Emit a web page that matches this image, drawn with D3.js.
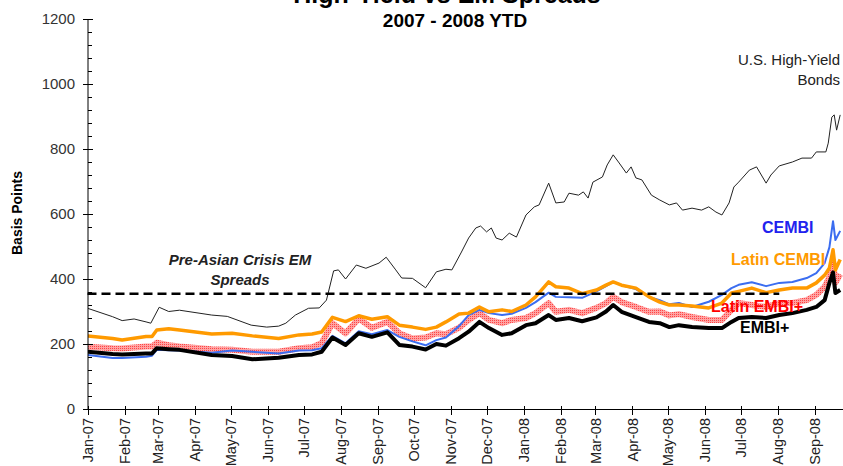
<!DOCTYPE html>
<html>
<head>
<meta charset="utf-8">
<script src="https://cdn.jsdelivr.net/npm/d3@7"></script>
<style>
body { margin: 0; background: #fff; }
svg { display: block; font-family: "Liberation Sans", Arial, sans-serif; }
</style>
</head>
<body>
<svg id="chart" width="843" height="466"></svg>
<script>
var hyDates = ["2007-01-01","2007-01-22","2007-01-30","2007-02-09","2007-02-19","2007-02-23","2007-03-02","2007-03-10","2007-03-19","2007-04-15",
  "2007-04-28","2007-05-18","2007-05-31","2007-06-10","2007-06-16","2007-06-24","2007-07-05","2007-07-14","2007-07-20","2007-07-26",
  "2007-07-30","2007-08-05","2007-08-14","2007-08-22","2007-09-02","2007-09-08","2007-09-16","2007-09-21","2007-09-30","2007-10-11",
  "2007-10-20","2007-10-28","2007-11-02","2007-11-10","2007-11-16","2007-11-22","2007-11-26","2007-12-01","2007-12-05","2007-12-09",
  "2007-12-14","2007-12-20","2007-12-26","2008-01-03","2008-01-10","2008-01-14","2008-01-22","2008-01-28","2008-02-04","2008-02-08",
  "2008-02-16","2008-02-20","2008-02-24","2008-02-28","2008-03-07","2008-03-11","2008-03-16","2008-03-21","2008-03-27","2008-03-31",
  "2008-04-04","2008-04-09","2008-04-17","2008-04-24","2008-05-02","2008-05-08","2008-05-13","2008-05-21","2008-05-29","2008-06-04",
  "2008-06-10","2008-06-15","2008-06-21","2008-06-25","2008-06-29","2008-07-08","2008-07-14","2008-07-18","2008-07-22","2008-07-26",
  "2008-08-02","2008-08-13","2008-08-21","2008-08-29","2008-09-02","2008-09-10","2008-09-12","2008-09-15","2008-09-17","2008-09-19",
  "2008-09-22"];
var hyValues = [310,284,272,277,268,264,313,300,304,289,
  285,258,252,255,264,289,310,311,335,425,
  428,400,443,433,449,467,428,403,402,373,
  422,430,428,483,526,557,563,545,557,526,
  520,541,529,597,622,628,695,634,637,664,
  658,668,649,698,714,751,782,757,726,745,
  711,705,658,643,628,634,612,618,612,622,
  606,597,634,683,698,735,745,720,695,720,
  748,760,772,772,791,791,818,898,905,858,
  905];

var emDates = ["2007-01-01","2007-01-22","2007-01-30","2007-02-19","2007-02-24","2007-02-28","2007-03-10","2007-03-19","2007-04-15","2007-05-02",
  "2007-05-19","2007-06-10","2007-06-27","2007-07-08","2007-07-16","2007-07-25","2007-08-05","2007-08-16","2007-08-27","2007-09-09",
  "2007-09-19","2007-09-30","2007-10-11","2007-10-20","2007-10-28","2007-11-08","2007-11-16","2007-11-25","2007-12-03","2007-12-14",
  "2007-12-22","2008-01-03","2008-01-11","2008-01-22","2008-01-28","2008-02-08","2008-02-19","2008-03-02","2008-03-10","2008-03-16",
  "2008-03-23","2008-04-04","2008-04-15","2008-04-24","2008-05-02","2008-05-10","2008-05-21","2008-06-04","2008-06-15","2008-06-23",
  "2008-06-29","2008-07-10","2008-07-22","2008-08-02","2008-08-13","2008-08-25","2008-09-02","2008-09-09","2008-09-13","2008-09-16",
  "2008-09-18","2008-09-22"];
var latinCembi = [225,217,212,223,223,243,247,243,231,233,
  225,217,228,231,237,282,269,287,276,284,
  258,252,245,252,268,292,295,314,299,305,
  300,320,345,391,376,372,355,366,381,391,
  381,372,345,329,320,320,317,311,326,357,
  362,372,358,366,372,372,388,412,434,490,
  428,460];
var cembi = [166,157,157,161,164,182,181,180,173,180,
  176,171,180,181,187,225,202,239,230,243,
  222,208,196,212,220,255,289,305,295,289,
  293,311,329,358,345,344,342,362,378,391,
  381,369,345,335,322,326,314,330,351,372,
  382,390,378,388,391,403,418,449,498,578,
  520,548];
var latinEmbi = [192,187,186,192,192,204,196,192,184,182,
  176,176,187,190,203,264,233,278,250,268,
  233,217,220,233,230,250,274,295,274,264,
  274,280,295,326,299,305,295,311,326,345,
  329,314,299,300,288,292,283,274,274,305,
  326,320,314,326,326,335,351,376,406,455,
  388,415];
var embiPlus = [176,169,168,171,171,187,184,182,166,163,
  153,158,166,168,176,220,197,233,222,236,
  197,192,183,200,195,218,238,268,249,228,
  233,258,264,289,274,280,270,282,300,320,
  299,283,268,264,252,258,252,249,249,268,
  280,283,280,289,295,305,314,335,388,420,
  357,366];

var preAsianLevel = 355;
var preAsianEnd = "2008-08-02";

var parseDate = d3.timeParse("%Y-%m-%d");
var svg = d3.select("#chart");

var x = d3.scaleTime()
  .domain([parseDate("2007-01-01"), parseDate("2008-09-01")])
  .range([87.5, 815.1]);
var y = d3.scaleLinear()
  .domain([0, 1200])
  .range([409, 19]);

// pink dotted fill used by Latin EMBI+
var defs = svg.append("defs");
var pat = defs.append("pattern")
  .attr("id", "hatch")
  .attr("patternUnits", "userSpaceOnUse")
  .attr("width", 2).attr("height", 2);
pat.append("rect").attr("width", 2).attr("height", 2).attr("fill", "#ffa3a3");
pat.append("rect").attr("width", 1).attr("height", 1).attr("fill", "#ff4444");

defs.append("clipPath").attr("id", "plotclip")
  .append("rect").attr("x", 88).attr("y", 0).attr("width", 760).attr("height", 409);

function series(dates, values) {
  return dates.map(function(d, i) { return {date: parseDate(d), value: values[i]}; });
}

var line = d3.line()
  .x(function(d) { return x(d.date); })
  .y(function(d) { return y(d.value); });

var plot = svg.append("g").attr("clip-path", "url(#plotclip)");

var lines = [
  {data: series(emDates, latinEmbi), stroke: "url(#hatch)", width: 6},
  {data: series(emDates, cembi), stroke: "#3b6df0", width: 2},
  {data: series(emDates, latinCembi), stroke: "#ff9a00", width: 3.5},
  {data: series(emDates, embiPlus), stroke: "#000", width: 4},
  {data: series(hyDates, hyValues), stroke: "#222", width: 1}
];

plot.selectAll("path.series")
  .data(lines)
  .enter().append("path")
  .attr("class", "series")
  .attr("fill", "none")
  .attr("stroke", function(d) { return d.stroke; })
  .attr("stroke-width", function(d) { return d.width; })
  .attr("stroke-linejoin", "round")
  .attr("d", function(d) { return line(d.data); });

svg.append("line")
  .attr("x1", x(parseDate("2007-01-01")))
  .attr("x2", x(parseDate(preAsianEnd)))
  .attr("y1", y(preAsianLevel))
  .attr("y2", y(preAsianLevel))
  .attr("stroke", "#000")
  .attr("stroke-width", 2.5)
  .attr("stroke-dasharray", "9,5");

// axes
var yMajor = d3.range(0, 1201, 200);
var yMinor = d3.range(0, 1201, 40);

var yAxis = svg.append("g");
yAxis.append("line")
  .attr("x1", 88).attr("x2", 88)
  .attr("y1", y(1200)).attr("y2", y(0))
  .attr("stroke", "#000");
yAxis.selectAll("line.minor")
  .data(yMinor)
  .enter().append("line")
  .attr("class", "minor")
  .attr("x1", 88).attr("x2", 92)
  .attr("y1", function(d) { return y(d) + 0.5; })
  .attr("y2", function(d) { return y(d) + 0.5; })
  .attr("stroke", "#000");
yAxis.selectAll("line.major")
  .data(yMajor)
  .enter().append("line")
  .attr("class", "major")
  .attr("x1", 83).attr("x2", 93)
  .attr("y1", function(d) { return y(d) + 0.5; })
  .attr("y2", function(d) { return y(d) + 0.5; })
  .attr("stroke", "#000");
yAxis.selectAll("text")
  .data(yMajor)
  .enter().append("text")
  .attr("x", 75)
  .attr("y", function(d) { return y(d); })
  .attr("dy", "0.36em")
  .attr("text-anchor", "end")
  .attr("font-size", 15)
  .attr("fill", "#333")
  .text(function(d) { return d; });

var months = x.ticks(d3.timeMonth.every(1));
var fmt = d3.timeFormat("%b-%y");

var xAxis = svg.append("g");
xAxis.append("line")
  .attr("x1", 88).attr("x2", 843)
  .attr("y1", 409.5).attr("y2", 409.5)
  .attr("stroke", "#000");
xAxis.selectAll("line.tick")
  .data(months)
  .enter().append("line")
  .attr("class", "tick")
  .attr("x1", function(d) { return Math.round(x(d)) + 0.5; })
  .attr("x2", function(d) { return Math.round(x(d)) + 0.5; })
  .attr("y1", 406).attr("y2", 415)
  .attr("stroke", "#000");
xAxis.selectAll("text")
  .data(months)
  .enter().append("text")
  .attr("transform", function(d) { return "translate(" + x(d) + ",418) rotate(-90)"; })
  .attr("dy", "0.36em")
  .attr("text-anchor", "end")
  .attr("font-size", 14.5)
  .attr("fill", "#222")
  .text(function(d) { return fmt(d); });

// titles and labels (the main title is cut by the top edge, as in the source)
svg.append("text")
  .attr("x", 447).attr("y", 3)
  .attr("text-anchor", "middle")
  .attr("font-size", 25).attr("font-weight", "bold")
  .text("High-Yield vs EM Spreads");
svg.append("text")
  .attr("x", 455).attr("y", 27)
  .attr("text-anchor", "middle")
  .attr("font-size", 19).attr("font-weight", "bold")
  .text("2007 - 2008 YTD");
svg.append("text")
  .attr("transform", "translate(22,213) rotate(-90)")
  .attr("text-anchor", "middle")
  .attr("font-size", 14).attr("font-weight", "bold")
  .text("Basis Points");

var notes = [
  {text: "U.S. High-Yield", x: 840, y: 65, anchor: "end", color: "#222", weight: "normal", size: 15, style: "normal"},
  {text: "Bonds", x: 840, y: 85, anchor: "end", color: "#222", weight: "normal", size: 15, style: "normal"},
  {text: "CEMBI", x: 762, y: 233, anchor: "start", color: "#2222ee", weight: "bold", size: 16, style: "normal"},
  {text: "Latin CEMBI", x: 731, y: 265, anchor: "start", color: "#ff9a00", weight: "bold", size: 16, style: "normal"},
  {text: "Latin EMBI+", x: 711, y: 312, anchor: "start", color: "#ff0000", weight: "bold", size: 16, style: "normal"},
  {text: "EMBI+", x: 740, y: 333, anchor: "start", color: "#000", weight: "bold", size: 16, style: "normal"},
  {text: "Pre-Asian Crisis EM", x: 240, y: 265, anchor: "middle", color: "#222", weight: "bold", size: 15, style: "italic"},
  {text: "Spreads", x: 240, y: 285, anchor: "middle", color: "#222", weight: "bold", size: 15, style: "italic"}
];

svg.selectAll("text.note")
  .data(notes)
  .enter().append("text")
  .attr("class", "note")
  .attr("x", function(d) { return d.x; })
  .attr("y", function(d) { return d.y; })
  .attr("text-anchor", function(d) { return d.anchor; })
  .attr("fill", function(d) { return d.color; })
  .attr("font-weight", function(d) { return d.weight; })
  .attr("font-style", function(d) { return d.style; })
  .attr("font-size", function(d) { return d.size; })
  .text(function(d) { return d.text; });
</script>
</body>
</html>
